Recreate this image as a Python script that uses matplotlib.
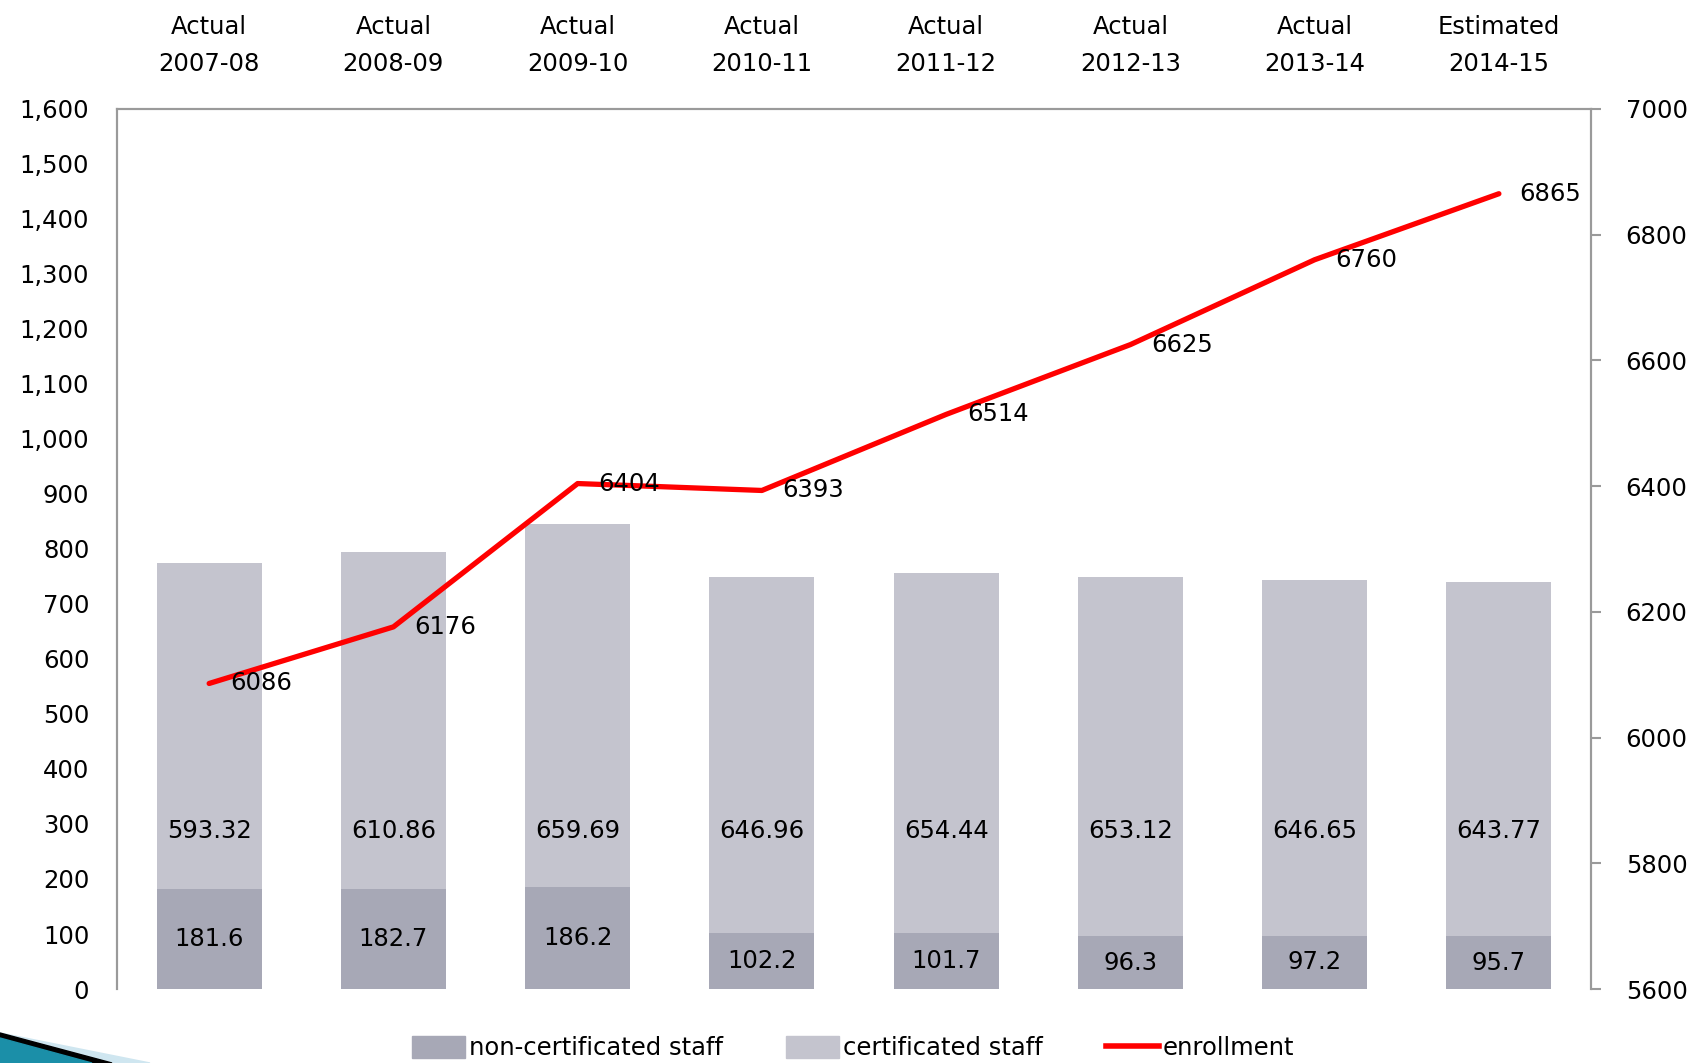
import matplotlib
matplotlib.use('Agg')
import matplotlib.pyplot as plt
from matplotlib.patches import Polygon, Patch
from matplotlib.lines import Line2D
from matplotlib.ticker import FuncFormatter

years = ['Actual\n2007-08', 'Actual\n2008-09', 'Actual\n2009-10', 'Actual\n2010-11',
         'Actual\n2011-12', 'Actual\n2012-13', 'Actual\n2013-14', 'Estimated\n2014-15']
non_cert = [181.6, 182.7, 186.2, 102.2, 101.7, 96.3, 97.2, 95.7]
cert = [593.32, 610.86, 659.69, 646.96, 654.44, 653.12, 646.65, 643.77]
enrollment = [6086, 6176, 6404, 6393, 6514, 6625, 6760, 6865]

dark = '#A7A8B6'
light = '#C4C4CE'
grey = '#9A9A9A'
fs = 17.5

plt.rcParams['font.family'] = 'DejaVu Sans'

fig = plt.figure(figsize=(17.06, 10.63), dpi=100)
ax = fig.add_axes([0.0686, 0.0696, 0.864, 0.828])

x = list(range(len(years)))
ax.bar(x, non_cert, width=0.57, color=dark, zorder=2)
ax.bar(x, cert, width=0.57, bottom=non_cert, color=light, zorder=2)

for i in x:
    ax.text(i, non_cert[i] / 2, f'{non_cert[i]:.1f}', ha='center', va='center', fontsize=fs, zorder=3)
    ax.text(i, 287, f'{cert[i]:.2f}', ha='center', va='center', fontsize=fs, zorder=3)

ax.set_xlim(-0.5, len(years) - 0.5)
ax.set_ylim(0, 1600)
ax.set_yticks(range(0, 1601, 100))
ax.yaxis.set_major_formatter(FuncFormatter(lambda v, p: f'{int(v):,}'))
ax.tick_params(axis='y', length=0, pad=20, labelsize=fs)
ax.xaxis.tick_top()
ax.set_xticks(x)
ax.set_xticklabels(years, fontsize=fs, linespacing=1.65)
ax.tick_params(axis='x', length=0, pad=24)

for s in ['left', 'top', 'right']:
    ax.spines[s].set_color(grey)
    ax.spines[s].set_linewidth(1.5)
ax.spines['bottom'].set_visible(False)

ax2 = ax.twinx()
ax2.plot(x, enrollment, color='#FF0000', linewidth=3.8, solid_capstyle='round', solid_joinstyle='round')
for i in x:
    ax2.annotate(str(enrollment[i]), (i, enrollment[i]), xytext=(15, 0), textcoords='offset points',
                 ha='left', va='center', fontsize=fs)
ax2.set_ylim(5600, 7000)
ax2.set_yticks(range(5600, 7001, 200))
ax2.tick_params(axis='y', length=7, width=1.5, color=grey, pad=18, labelsize=fs)
for s in ['left', 'top', 'right']:
    ax2.spines[s].set_color(grey)
    ax2.spines[s].set_linewidth(1.5)
ax2.spines['bottom'].set_visible(False)

handles = [Patch(color=dark), Patch(color=light), Line2D([0], [0], color='#FF0000', linewidth=4)]
fig.legend(handles, ['non-certificated staff', 'certificated staff', 'enrollment'],
           loc='center', bbox_to_anchor=(0.5, 0.014), ncol=3, frameon=False, fontsize=fs,
           handlelength=2.2, handleheight=1.0, handletextpad=0.15, columnspacing=2.6)

# decorative bullet in the lower left corner
W, H = 1706, 1063
def pts(lst):
    return [(px / W, (H - py) / H) for px, py in lst]
fig.patches.append(Polygon(pts([(0, 1033), (150, 1063), (0, 1063)]), closed=True,
                           transform=fig.transFigure, color='#CFE6F0'))
fig.patches.append(Polygon(pts([(0, 1033), (112, 1063), (0, 1063)]), closed=True,
                           transform=fig.transFigure, color='#000000'))
fig.patches.append(Polygon(pts([(0, 1038), (92, 1063), (0, 1063)]), closed=True,
                           transform=fig.transFigure, color='#1B8FA8'))

fig.savefig('out.png', dpi=100)
